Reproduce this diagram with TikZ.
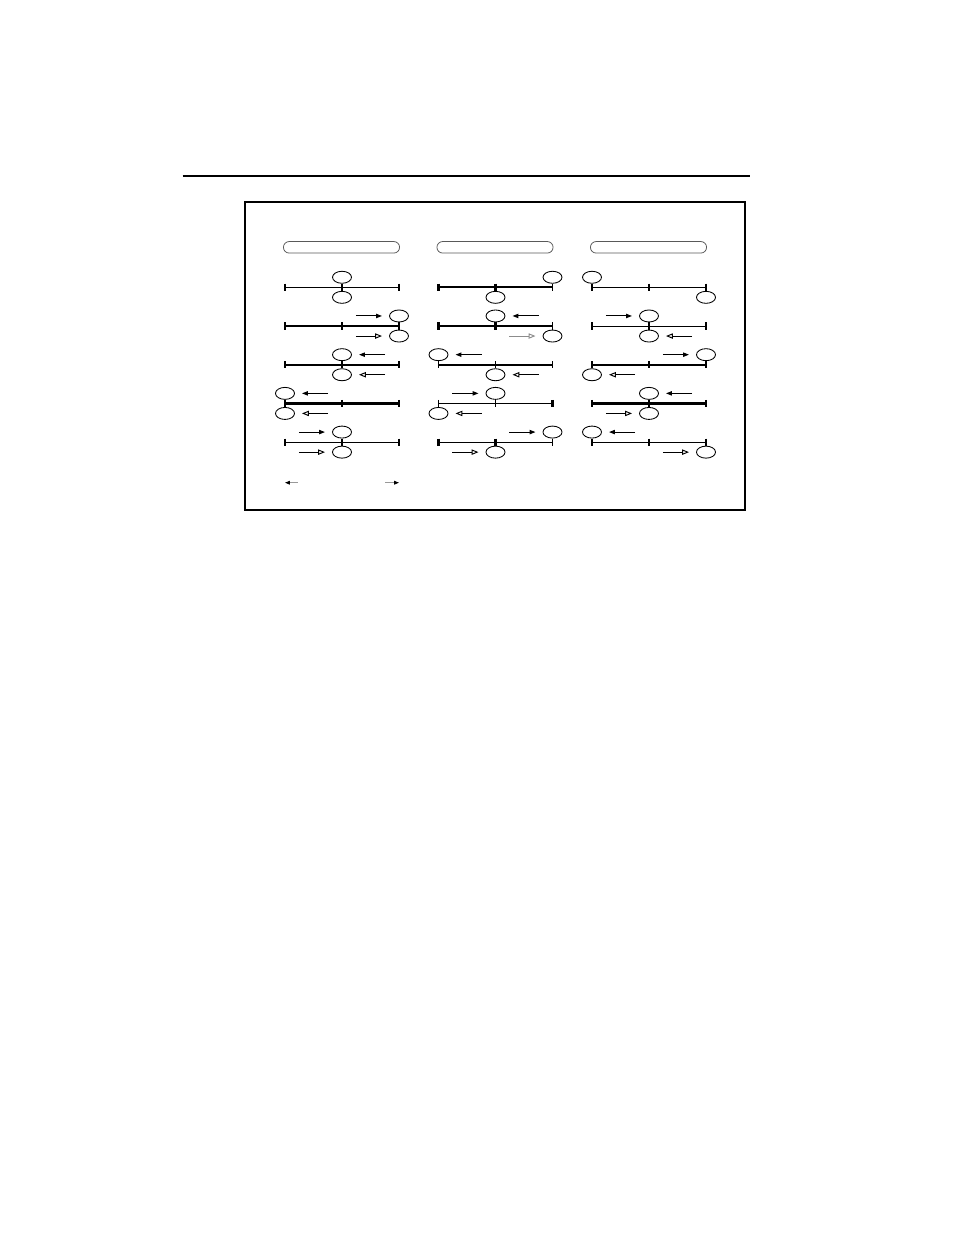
\documentclass[tikz,border=0pt]{standalone}
\usepackage{tikz}
\usetikzlibrary{arrows.meta,shapes.geometric}
\tikzset{oval/.style={ellipse,draw,line width=0.55pt,minimum width=12.2pt,minimum height=7.7pt,inner sep=0pt},
pill/.style={draw=black!65,line width=0.5pt,rounded corners=3.7pt,minimum width=74.5pt,minimum height=7.4pt,inner sep=0pt},
}

\begin{document}
\begin{tikzpicture}[x=0.6415pt,y=-0.6415pt,
slim/.style={line width=0.65pt},heavy/.style={line width=1.4pt},
filltip/.style={-{Triangle[length=3.8pt,width=2.8pt]},line width=0.65pt},
opentip/.style={-{Triangle[open,length=4.4pt,width=3.4pt,line width=0.6pt]},line width=0.65pt}]
\useasboundingbox (0,0) rectangle (954,1235);

\draw[line width=1.3pt] (182.7,176) -- (750,176);
\draw[line width=1.3pt] (245,202) rectangle (745,510);

\node[pill] (head1) at (341.5,247.3) {};
\node[pill] (head2) at (495,247.3) {};
\node[pill] (head3) at (648.5,247.3) {};

% column/row/line/ticks L M R/upper/lower/arrows/colour
\foreach \c/\r/\w/\tl/\tm/\tr/\up/\dn/\ua/\da/\dc in {
1/1/slim/heavy/heavy/slim/M/M/0/0/black,
1/2/heavy/heavy/heavy/slim/R/R/-1/-1/black,
1/3/heavy/heavy/heavy/slim/M/M/1/1/black,
1/4/heavy/slim/slim/heavy/L/L/1/1/black,
1/5/slim/heavy/heavy/slim/M/M/-1/-1/black,
2/1/heavy/heavy/heavy/slim/R/M/0/0/black,
2/2/heavy/heavy/heavy/slim/M/R/1/-1/black!45,
2/3/heavy/slim/slim/slim/L/M/1/1/black,
2/4/slim/slim/slim/heavy/M/L/-1/1/black,
2/5/slim/heavy/heavy/slim/R/M/-1/-1/black,
3/1/slim/slim/slim/slim/L/R/0/0/black,
3/2/slim/slim/slim/heavy/M/M/-1/1/black,
3/3/heavy/slim/slim/heavy/R/L/-1/1/black,
3/4/heavy/slim/slim/heavy/M/M/1/-1/black,
3/5/slim/slim/slim/heavy/L/R/1/-1/black}
{
\pgfmathsetmacro\xl{285+153.5*(\c-1)}
\pgfmathsetmacro\yy{287.3+38.7*(\r-1)}
\coordinate (L) at (\xl,\yy);
\coordinate (M) at (\xl+57,\yy);
\coordinate (R) at (\xl+114,\yy);
\draw[\w] (L) -- (R);
\draw[\tl] (L) ++(0,-3.6) -- ++(0,7.2);
\draw[\tm] (M) ++(0,-3.6) -- ++(0,7.2);
\draw[\tr] (R) ++(0,-3.6) -- ++(0,7.2);
\path (\up) ++(0,-3.6) node[oval,anchor=south] (up\c\r) {};
\path (\dn) ++(0,3.6) node[oval,anchor=north] (dn\c\r) {};
\ifnum\ua=0\else
\draw[filltip] ([xshift=\ua*27.6pt]up\c\r.center) -- ([xshift=\ua*10.9pt]up\c\r.center);
\fi
\ifnum\da=0\else
\draw[opentip,draw=\dc] ([xshift=\da*27.6pt]dn\c\r.center) -- ([xshift=\da*10.9pt]dn\c\r.center);
\fi
}

% legend
\coordinate (keyl) at (297.7,482.7);
\coordinate (keyr) at (385,482.7);
\draw[black!40,line width=0.6pt,-{Triangle[color=black,length=3.2pt,width=2.4pt]}] (keyl) -- ++(-12.7,0);
\draw[black!40,line width=0.6pt,-{Triangle[color=black,length=3.2pt,width=2.4pt]}] (keyr) -- ++(14,0);
\end{tikzpicture}
\end{document}
